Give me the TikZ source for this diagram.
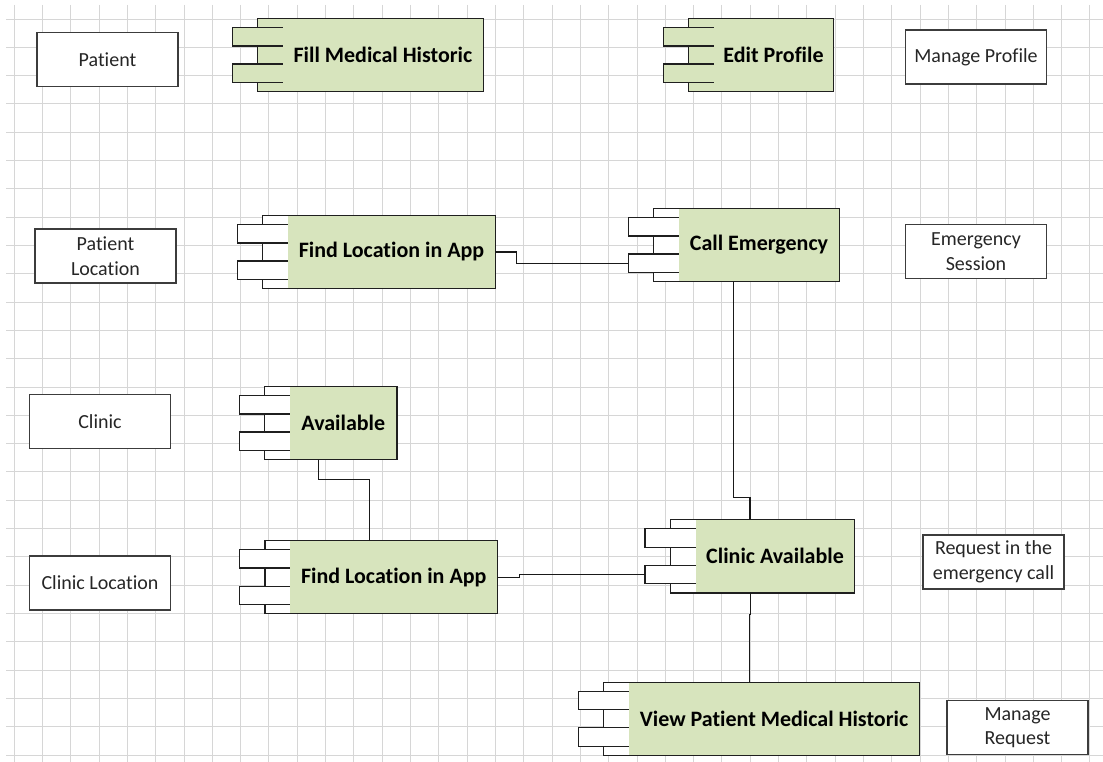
\documentclass[tikz,border=0pt]{standalone}
\usepackage{fontspec}
\setmainfont{Carlito}[Ligatures=NoCommon]
\usetikzlibrary{calc}

\definecolor{gridgray}{HTML}{D6D6D6}
\definecolor{compgreen}{HTML}{D7E4BD}
\definecolor{boxline}{HTML}{3C3C3C}
\definecolor{txt}{HTML}{262626}

\tikzset{
  gridline/.style={draw=gridgray, line width=1pt},
  textbox/.style={draw=boxline, line width=1.3pt, fill=white,
    minimum width=141pt, minimum height=54pt, inner sep=0pt,
    align=center, font=\fontsize{20}{24.5}\selectfont, text=txt},
  compbody/.style={fill=compgreen, inner sep=0pt,
    font=\bfseries\fontsize{22}{26}\selectfont, text=black},
  comptab/.style={inner sep=0pt, minimum width=50pt, minimum height=18pt},
  compline/.style={draw=black!88, line width=1.3pt},
  link/.style={draw=black!90, line width=1.2pt},
}

% UML component: name, centre x, centre y, body width, body height,
% fill of the left strip and tabs, label
\newcommand\umlcomp[7]{%
  \node[compbody, minimum width=#4pt, minimum height=#5pt] (#1) at (#2,#3) {#7};
  \fill[#6] ([xshift=-25pt]#1.north west) rectangle (#1.south west);
  \draw[compline] (#1.north west) -- (#1.north east) -- (#1.south east)
    -- ([xshift=-25pt]#1.south west) -- ([xshift=-25pt]#1.north west) -- cycle;
  \node[comptab, fill=#6, anchor=east] (#1-t1) at ($(#1.north west)!0.25!(#1.south west)$) {};
  \node[comptab, fill=#6, anchor=east] (#1-t2) at ($(#1.north west)!0.75!(#1.south west)$) {};
  \draw[compline] (#1-t1.north east) -- (#1-t1.north west) -- (#1-t1.south west) -- (#1-t1.south east);
  \draw[compline] (#1-t2.north east) -- (#1-t2.north west) -- (#1-t2.south west) -- (#1-t2.south east);
}

\begin{document}
\begin{tikzpicture}[x=1pt, y=-1pt]
  \useasboundingbox (0,0) rectangle (1103,762);
  \fill[white] (0,0) rectangle (1103,762);

  % sheet grid, snapped to pixel centres
  \foreach \i in {0,...,38} {
    \pgfmathsetmacro{\gx}{floor(14.2+28.31*\i)+0.5}
    \draw[gridline] (\gx,5) -- (\gx,762);
  }
  \foreach \j in {0,...,26} {
    \pgfmathsetmacro{\gy}{floor(19+28.31*\j)+0.5}
    \draw[gridline] (6,\gy) -- (1103,\gy);
  }

  % actors / context boxes
  \node[textbox] (patient)  at (107.5,59.5) {Patient};
  \node[textbox] (manprof)  at (976,57)     {Manage Profile};
  \node[textbox] (patloc)   at (105.5,256)  {Patient\\Location};
  \node[textbox] (emsess)   at (976,251.5)  {Emergency\\Session};
  \node[textbox] (clinic)   at (100,421.5)  {Clinic};
  \node[textbox] (clinloc)  at (100,583)    {Clinic Location};
  \node[textbox] (request)  at (993.5,562)  {Request in the\\emergency call};
  \node[textbox] (manreq)   at (1017.5,727.5) {Manage\\Request};

  % components
  \umlcomp{fill}{382.9}{55}{200.3}{72}{compgreen}{Fill Medical Historic}
  \umlcomp{edit}{773.5}{55}{119.5}{72}{compgreen}{Edit Profile}
  \umlcomp{findp}{391.5}{252}{207}{72.5}{white}{Find Location in App}
  \umlcomp{call}{759}{245}{160}{72}{white}{Call Emergency}
  \umlcomp{avail}{343.3}{423}{106.7}{72.6}{white}{Available}
  \umlcomp{findc}{393.7}{577.1}{207.3}{72.8}{white}{Find Location in App}
  \umlcomp{clinav}{775}{556.3}{158.6}{72.7}{white}{Clinic Available}
  \umlcomp{view}{774}{718.7}{290}{72.7}{white}{View Patient Medical Historic}

  % connectors
  \draw[link] (findp.east) -- ++(21,0) |- (call-t2.west);
  \draw[link] ([xshift=-25.7pt]call.south) -- ++(0,216) -| ([xshift=-25pt]clinav.north);
  \draw[link] ([xshift=-24.6pt]avail.south) -- ++(0,20) -| ([xshift=-24.4pt]findc.north);
  \draw[link] (findc.east) -- ++(22,0) |- (clinav-t2.west);
  \draw[link] ([xshift=-24.3pt]clinav.south) -- ++(0,21.6) -| ([xshift=-24.7pt]view.north);
\end{tikzpicture}
\end{document}
